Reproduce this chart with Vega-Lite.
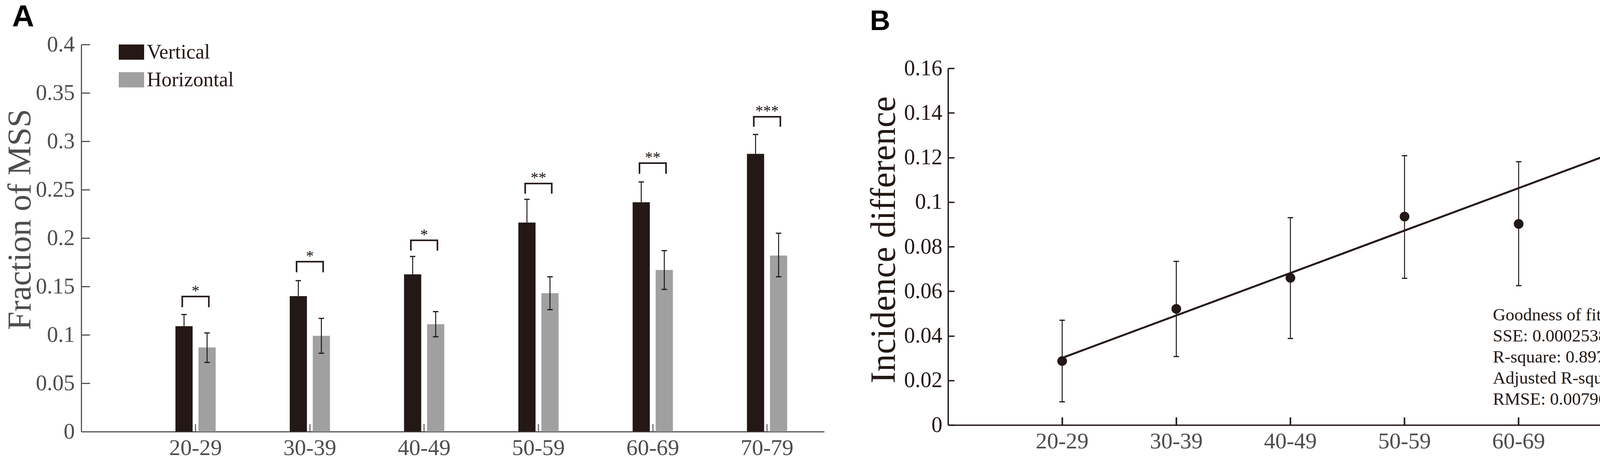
{
  "$schema": "https://vega.github.io/schema/vega-lite/v6.json",
  "background": "white",
  "padding": {"left": 9, "top": 6, "right": 0, "bottom": 0},
  "spacing": 107,
  "config": {
    "view": {"stroke": null},
    "font": "Liberation Serif",
    "axis": {"grid": false, "labelFont": "Liberation Serif", "titleFont": "Liberation Serif", "titleFontWeight": "normal", "labelAngle": 0}
  },
  "resolve": {"scale": {"x": "independent", "y": "independent"}},
  "datasets": {
    "bars": [
      {"age": "20-29", "series": "Vertical", "value": 0.109, "lo": 0.109, "hi": 0.121},
      {"age": "20-29", "series": "Horizontal", "value": 0.087, "lo": 0.0715, "hi": 0.102},
      {"age": "30-39", "series": "Vertical", "value": 0.140, "lo": 0.140, "hi": 0.156},
      {"age": "30-39", "series": "Horizontal", "value": 0.099, "lo": 0.081, "hi": 0.117},
      {"age": "40-49", "series": "Vertical", "value": 0.1625, "lo": 0.1625, "hi": 0.181},
      {"age": "40-49", "series": "Horizontal", "value": 0.111, "lo": 0.098, "hi": 0.124},
      {"age": "50-59", "series": "Vertical", "value": 0.216, "lo": 0.216, "hi": 0.240},
      {"age": "50-59", "series": "Horizontal", "value": 0.143, "lo": 0.126, "hi": 0.160},
      {"age": "60-69", "series": "Vertical", "value": 0.237, "lo": 0.237, "hi": 0.258},
      {"age": "60-69", "series": "Horizontal", "value": 0.167, "lo": 0.147, "hi": 0.187},
      {"age": "70-79", "series": "Vertical", "value": 0.287, "lo": 0.287, "hi": 0.307},
      {"age": "70-79", "series": "Horizontal", "value": 0.182, "lo": 0.160, "hi": 0.205}
    ],
    "sig": [
      {"age": "20-29", "top": 0.1396, "bottom": 0.1286, "stars": "*"},
      {"age": "30-39", "top": 0.1756, "bottom": 0.1646, "stars": "*"},
      {"age": "40-49", "top": 0.1977, "bottom": 0.1870, "stars": "*"},
      {"age": "50-59", "top": 0.2564, "bottom": 0.2459, "stars": "**"},
      {"age": "60-69", "top": 0.2774, "bottom": 0.2664, "stars": "**"},
      {"age": "70-79", "top": 0.3253, "bottom": 0.3151, "stars": "***"}
    ],
    "incidence": [
      {"age": "20-29", "value": 0.0287, "lo": 0.0104, "hi": 0.0470},
      {"age": "30-39", "value": 0.0521, "lo": 0.0307, "hi": 0.0734},
      {"age": "40-49", "value": 0.0660, "lo": 0.0388, "hi": 0.0930},
      {"age": "50-59", "value": 0.0935, "lo": 0.0658, "hi": 0.1208},
      {"age": "60-69", "value": 0.0902, "lo": 0.0625, "hi": 0.1181},
      {"age": "70-79", "value": 0.1341, "lo": 0.1040, "hi": 0.1641}
    ],
    "fit": [
      {"age": "20-29", "fitted": 0.0301},
      {"age": "70-79", "fitted": 0.1253}
    ]
  },
  "hconcat": [
    {
      "width": 1902,
      "height": 992,
      "title": {"text": "A", "anchor": "start", "frame": "group", "font": "Liberation Sans", "fontSize": 78, "fontWeight": "bold", "color": "#000000", "dx": -177, "baseline": "alphabetic", "offset": -61},
      "data": {"name": "bars"},
      "encoding": {
        "x": {
          "field": "age", "type": "nominal",
          "scale": {"type": "band", "paddingInner": 0, "paddingOuter": 0.25, "align": 1},
          "axis": {"title": null, "bandPosition": 0.5, "domainColor": "#555555", "domainWidth": 3, "tickColor": "#555555", "tickWidth": 2.5, "tickSize": -20, "labelFontSize": 58, "labelColor": "#4d4d4d", "labelPadding": 33}
        }
      },
      "layer": [
        {
          "transform": [{"filter": "datum.series === 'Vertical'"}],
          "mark": {"type": "bar", "width": 44, "xOffset": -29.5},
          "encoding": {
            "y": {
              "field": "value", "type": "quantitative",
              "scale": {"domain": [0, 0.4]},
              "axis": {"title": "Fraction of MSS", "values": [0, 0.05, 0.1, 0.15, 0.2, 0.25, 0.3, 0.35, 0.4], "format": ".2~f", "domainColor": "#555555", "domainWidth": 3, "tickColor": "#555555", "tickWidth": 3, "tickSize": -22, "labelFontSize": 57, "labelColor": "#4d4d4d", "labelPadding": 39, "titleFontSize": 85, "titleColor": "#4d4d4d", "titleX": -131, "titleY": 448, "titleAngle": -90, "titleBaseline": "alphabetic", "titleAlign": "center"}
            },
            "color": {
              "field": "series", "type": "nominal",
              "scale": {"domain": ["Vertical", "Horizontal"], "range": ["#231815", "#a0a0a0"]},
              "legend": {"orient": "none", "legendX": 96, "legendY": -13, "title": null, "direction": "vertical", "symbolType": "M-1,-0.6H1V0.6H-1Z", "symbolSize": 4225, "symbolStrokeWidth": 0, "symbolOpacity": 1, "labelFont": "Liberation Serif", "labelFontSize": 52, "labelColor": "#231815", "labelOffset": 7, "labelLimit": 0, "rowPadding": 12, "padding": 0}
            }
          }
        },
        {
          "transform": [{"filter": "datum.series === 'Horizontal'"}],
          "mark": {"type": "bar", "width": 44, "xOffset": 29.5},
          "encoding": {
            "y": {"field": "value", "type": "quantitative"},
            "color": {"field": "series", "type": "nominal"}
          }
        },
        {
          "transform": [{"filter": "datum.series === 'Vertical'"}],
          "mark": {"type": "rule", "xOffset": -29.5, "color": "#231815", "strokeWidth": 2.5},
          "encoding": {"y": {"field": "lo", "type": "quantitative"}, "y2": {"field": "hi"}}
        },
        {
          "transform": [{"filter": "datum.series === 'Vertical'"}],
          "mark": {"type": "tick", "orient": "horizontal", "xOffset": -29.5, "color": "#231815", "size": 14, "thickness": 3, "opacity": 1},
          "encoding": {"y": {"field": "hi", "type": "quantitative"}}
        },
        {
          "transform": [{"filter": "datum.series === 'Horizontal'"}],
          "mark": {"type": "rule", "xOffset": 29.5, "color": "#231815", "strokeWidth": 2.5},
          "encoding": {"y": {"field": "lo", "type": "quantitative"}, "y2": {"field": "hi"}}
        },
        {
          "transform": [{"filter": "datum.series === 'Horizontal'"}],
          "mark": {"type": "tick", "orient": "horizontal", "xOffset": 29.5, "color": "#231815", "size": 14, "thickness": 3, "opacity": 1},
          "encoding": {"y": {"field": "hi", "type": "quantitative"}}
        },
        {
          "transform": [{"filter": "datum.series === 'Horizontal'"}],
          "mark": {"type": "tick", "orient": "horizontal", "xOffset": 29.5, "color": "#231815", "size": 14, "thickness": 3, "opacity": 1},
          "encoding": {"y": {"field": "lo", "type": "quantitative"}}
        },
        {
          "data": {"name": "sig"},
          "mark": {"type": "tick", "orient": "horizontal", "color": "#231815", "size": 72, "thickness": 4, "opacity": 1},
          "encoding": {"y": {"field": "top", "type": "quantitative"}}
        },
        {
          "data": {"name": "sig"},
          "mark": {"type": "rule", "xOffset": -34, "color": "#231815", "strokeWidth": 4},
          "encoding": {"y": {"field": "top", "type": "quantitative"}, "y2": {"field": "bottom"}}
        },
        {
          "data": {"name": "sig"},
          "mark": {"type": "rule", "xOffset": 34, "color": "#231815", "strokeWidth": 4},
          "encoding": {"y": {"field": "top", "type": "quantitative"}, "y2": {"field": "bottom"}}
        },
        {
          "data": {"name": "sig"},
          "mark": {"type": "text", "baseline": "alphabetic", "dy": -2, "fontSize": 40, "font": "Liberation Serif", "color": "#231815"},
          "encoding": {"y": {"field": "top", "type": "quantitative"}, "text": {"field": "stars"}}
        }
      ]
    },
    {
      "width": 1899,
      "height": 975,
      "title": {"text": "B", "anchor": "start", "frame": "group", "font": "Liberation Sans", "fontSize": 72, "fontWeight": "bold", "color": "#000000", "dx": -200, "baseline": "alphabetic", "offset": -35},
      "data": {"name": "incidence"},
      "encoding": {
        "x": {
          "field": "age", "type": "nominal",
          "scale": {"type": "band", "paddingInner": 0, "paddingOuter": 0.25, "align": 1},
          "axis": {"title": null, "bandPosition": 0.5, "domainColor": "#231815", "domainWidth": 3.5, "tickColor": "#231815", "tickWidth": 4, "tickSize": -20, "labelFontSize": 58, "labelColor": "#4d4d4d", "labelPadding": 33}
        }
      },
      "layer": [
        {
          "mark": {"type": "rule", "color": "#231815", "strokeWidth": 2.5},
          "encoding": {
            "y": {
              "field": "lo", "type": "quantitative",
              "scale": {"domain": [0, 0.16], "range": [975, 61]},
              "axis": {"title": "Incidence difference", "values": [0, 0.02, 0.04, 0.06, 0.08, 0.1, 0.12, 0.14, 0.16], "format": ".2~f", "domainColor": "#231815", "domainWidth": 3.5, "tickColor": "#231815", "tickWidth": 3.5, "tickSize": -16, "labelFontSize": 56, "labelColor": "#231815", "labelPadding": 31, "titleFontSize": 90, "titleColor": "#231815", "titleX": -137, "titleY": 500, "titleAngle": -90, "titleBaseline": "alphabetic", "titleAlign": "center"}
            },
            "y2": {"field": "hi"}
          }
        },
        {
          "mark": {"type": "tick", "orient": "horizontal", "color": "#231815", "size": 14, "thickness": 3, "opacity": 1},
          "encoding": {"y": {"field": "hi", "type": "quantitative"}}
        },
        {
          "mark": {"type": "tick", "orient": "horizontal", "color": "#231815", "size": 14, "thickness": 3, "opacity": 1},
          "encoding": {"y": {"field": "lo", "type": "quantitative"}}
        },
        {
          "data": {"name": "fit"},
          "mark": {"type": "line", "color": "#231815", "strokeWidth": 5},
          "encoding": {"y": {"field": "fitted", "type": "quantitative"}}
        },
        {
          "mark": {"type": "point", "shape": "circle", "filled": true, "size": 616, "color": "#231815", "opacity": 1},
          "encoding": {"y": {"field": "value", "type": "quantitative"}}
        },
        {
          "data": {"values": [{}]},
          "mark": {"type": "text", "align": "left", "baseline": "alphabetic", "dx": -66, "fontSize": 45, "lineHeight": 54, "font": "Liberation Serif", "color": "#231815"},
          "encoding": {
            "x": {"datum": "60-69"},
            "y": {"datum": 0.0469},
            "text": {"value": ["Goodness of fit:", "SSE: 0.0002538", "R-square: 0.8975", "Adjusted R-square: 0.8719", "RMSE: 0.007966"]}
          }
        }
      ]
    }
  ]
}
